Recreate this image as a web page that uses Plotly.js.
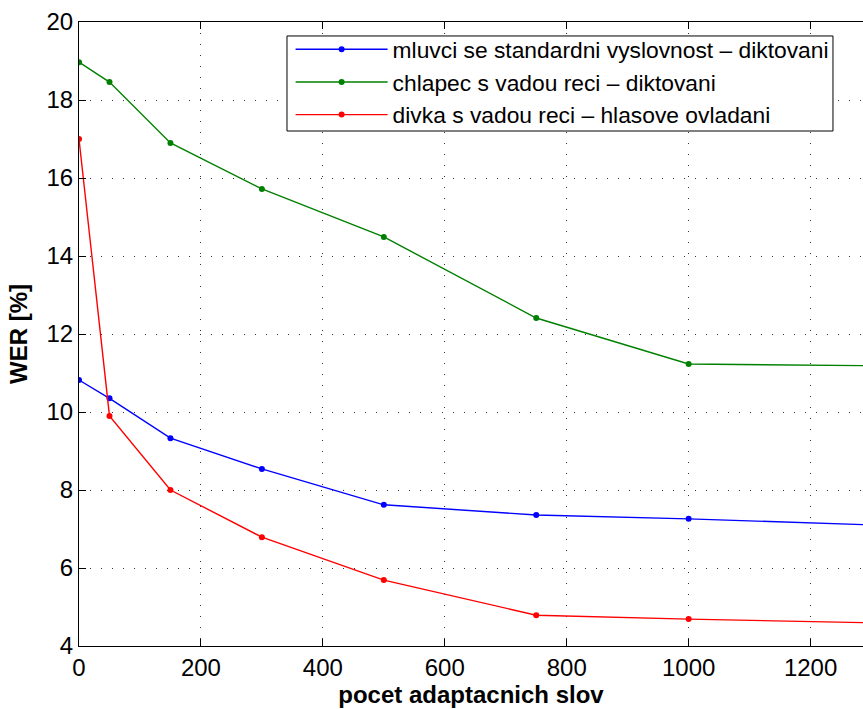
<!DOCTYPE html>
<html>
<head>
<meta charset="utf-8">
<script src="https://cdn.plot.ly/plotly-3.0.1.min.js"></script>
<style>html,body{margin:0;padding:0;background:#fff;}#chart{width:863px;height:709px;}</style>
</head>
<body>
<div id="chart"></div>
<script>
// number of adaptation words
const adaptWords = [0, 50, 150, 300, 500, 750, 1000, 1500];
// WER [%] per speaker
const werStandard = [10.82, 10.35, 9.33, 8.54, 7.62, 7.36, 7.26, 7.0];
const werBoy = [18.97, 18.46, 16.9, 15.72, 14.49, 12.41, 11.23, 11.16];
const werGirl = [17.0, 9.9, 8.0, 6.79, 5.69, 4.79, 4.69, 4.53];
const seriesNames = [
  "mluvci se standardni vyslovnost \u2013 diktovani",
  "chlapec s vadou reci \u2013 diktovani",
  "divka s vadou reci \u2013 hlasove ovladani"
];
const seriesColors = ["#0000ff", "#008000", "#ff0000"];
const xTicks = [0, 200, 400, 600, 800, 1000, 1200];
const yTicks = [4, 6, 8, 10, 12, 14, 16, 18, 20];

const ys = [werStandard, werBoy, werGirl];
const traces = ys.map((y, i) => ({
  x: adaptWords, y: y, name: seriesNames[i], type: 'scatter', mode: 'lines+markers',
  line: {color: seriesColors[i], width: 1.4},
  marker: {color: seriesColors[i], size: 6},
  cliponaxis: true
}));

const font = {family: '"Liberation Sans", Arial, Helvetica, sans-serif', color: '#000'};
const layout = {
  width: 863, height: 709,
  margin: {l: 79, r: 0, t: 22, b: 63},
  paper_bgcolor: '#fff', plot_bgcolor: '#fff',
  font: Object.assign({size: 23}, font),
  showlegend: true,
  legend: {
    x: 0.9625, y: 0.9904, xanchor: 'right', yanchor: 'top',
    borderwidth: 0, bgcolor: 'rgba(0,0,0,0)',
    font: Object.assign({size: 22.8}, font),
    itemwidth: 92, tracegroupgap: 0
  },
  shapes: [{
    type: 'rect', xref: 'paper', yref: 'paper', layer: 'above',
    x0: 0.2653, x1: 0.9617, y0: 0.8253, y1: 0.9776,
    line: {color: '#000', width: 1}, fillcolor: '#fff'
  }],
  xaxis: {
    range: [0, 1286], tickvals: xTicks, ticktext: xTicks.map(String),
    showline: true, linecolor: '#000', linewidth: 1, mirror: 'ticks',
    ticks: 'inside', ticklen: 7, tickcolor: '#000',
    showgrid: true, gridcolor: '#333', griddash: '1px,10px', gridwidth: 1,
    zeroline: false,
    tickfont: Object.assign({size: 24}, font),
    title: {text: '<b>pocet adaptacnich slov</b>', font: Object.assign({size: 24}, font), standoff: 2}
  },
  yaxis: {
    range: [4, 20], tickvals: yTicks, ticktext: yTicks.map(String),
    showline: true, linecolor: '#000', linewidth: 1, mirror: false,
    ticks: 'inside', ticklen: 7, tickcolor: '#000',
    showgrid: true, gridcolor: '#333', griddash: '1px,10px', gridwidth: 1,
    zeroline: false,
    tickfont: Object.assign({size: 24}, font),
    title: {text: '<b>WER [%]</b>', font: Object.assign({size: 24}, font), standoff: 12}
  }
};
Plotly.newPlot('chart', traces, layout, {displayModeBar: false, staticPlot: true});
</script>
</body>
</html>
